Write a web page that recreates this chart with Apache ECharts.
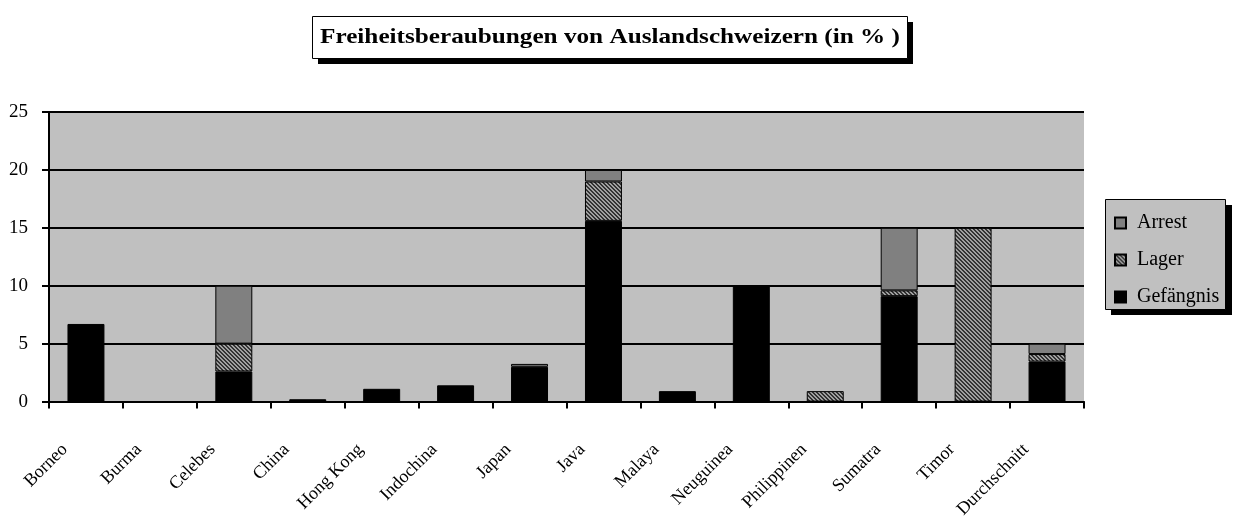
<!DOCTYPE html>
<html>
<head>
<meta charset="utf-8">
<script src="https://cdn.jsdelivr.net/npm/echarts@6/dist/echarts.min.js"></script>
<style>html,body{margin:0;padding:0;background:#fff;}#c{width:1234px;height:521px;}</style>
</head>
<body>
<div id="c"></div>
<script>
var titleText = 'Freiheitsberaubungen von Auslandschweizern (in % )';
var categories = ['Borneo','Burma','Celebes','China','Hong Kong','Indochina','Japan','Java','Malaya','Neuguinea','Philippinen','Sumatra','Timor','Durchschnitt'];
var gefaengnis = [6.7, 0, 2.6, 0.2, 1.1, 1.4, 3.0, 15.6, 0.9, 10, 0, 9.1, 0, 3.45];
var lager      = [0, 0, 2.4, 0, 0, 0, 0, 3.4, 0, 0, 0.9, 0.5, 15, 0.65];
var arrest     = [0, 0, 5, 0, 0, 0, 0.25, 1.0, 0, 0, 0, 5.4, 0, 0.9];
var seriesNames = ['Gefängnis', 'Lager', 'Arrest'];
var legendOrder = ['Arrest', 'Lager', 'Gefängnis'];

function nz(arr) { return arr.map(function (v) { return v === 0 ? null : v; }); }

// hatch pattern for "Lager"
var pc = document.createElement('canvas');
pc.width = 4; pc.height = 4;
var ctx = pc.getContext('2d');
ctx.fillStyle = '#a0a0a0';
ctx.fillRect(0, 0, 4, 4);
ctx.fillStyle = '#333333';
for (var i = 0; i < 4; i++) {
  ctx.fillRect(i, i, 1, 1);
  ctx.fillRect((i + 1) % 4, i, 1, 1);
}
var hatch = { image: pc, repeat: 'repeat' };

var serif = '"Liberation Serif", "Times New Roman", serif';
var chart = echarts.init(document.getElementById('c'), null, { renderer: 'canvas' });

function barSeries(name, data, color) {
  return {
    name: name,
    type: 'bar',
    stack: 'total',
    barWidth: '50%',
    data: nz(data),
    itemStyle: { color: color, borderColor: '#000', borderWidth: 1 },
    emphasis: { disabled: true }
  };
}

chart.setOption({
  animation: false,
  backgroundColor: '#fff',
  grid: {
    left: 49, right: 150, top: 112, bottom: 118,
    show: true, backgroundColor: '#c0c0c0', borderWidth: 0
  },
  xAxis: {
    type: 'category',
    data: categories,
    axisLine: { lineStyle: { color: '#000', width: 2 } },
    axisTick: { show: true, length: 7, lineStyle: { color: '#000', width: 2 } },
    axisLabel: {
      interval: 0, rotate: 45, color: '#000',
      fontFamily: serif, fontSize: 18,
      margin: 24, padding: [0, 30, 0, 0]
    },
    splitLine: { show: false }
  },
  yAxis: {
    type: 'value',
    min: 0, max: 25, interval: 5,
    axisLine: { show: true, lineStyle: { color: '#000', width: 2 } },
    axisTick: { show: true, length: 7, lineStyle: { color: '#000', width: 2 } },
    axisLabel: { color: '#000', fontFamily: serif, fontSize: 19, margin: 21 },
    splitLine: { show: true, lineStyle: { color: '#000', width: 2 } }
  },
  legend: {
    data: legendOrder,
    orient: 'vertical',
    left: 1114, top: 213,
    padding: 0,
    itemGap: 17,
    itemWidth: 11, itemHeight: 11,
    icon: 'rect',
    z: 10,
    textStyle: { fontFamily: serif, fontSize: 20, color: '#000', lineHeight: 20, padding: [0, 0, 0, 6] },
    selectedMode: false
  },
  graphic: [
    { type: 'rect', z: 1, shape: { x: 318, y: 22, width: 595, height: 42 }, style: { fill: '#000' } },
    { type: 'rect', z: 2, shape: { x: 312.5, y: 16.5, width: 595, height: 42 }, style: { fill: '#fff', stroke: '#000', lineWidth: 1 } },
    { type: 'text', z: 3, x: 610, y: 38, scaleX: 1.2, scaleY: 1,
      style: { text: titleText, x: 0, y: 0, textAlign: 'center', textVerticalAlign: 'middle', align: 'center', verticalAlign: 'middle',
               font: 'bold 21px ' + serif, fill: '#000' } },
    { type: 'rect', z: 1, shape: { x: 1111, y: 205, width: 121, height: 110 }, style: { fill: '#000' } },
    { type: 'rect', z: 2, shape: { x: 1105.5, y: 199.5, width: 120, height: 110 }, style: { fill: '#c0c0c0', stroke: '#000', lineWidth: 1 } }
  ],
  series: [
    barSeries(seriesNames[0], gefaengnis, '#000000'),
    barSeries(seriesNames[1], lager, hatch),
    barSeries(seriesNames[2], arrest, '#808080')
  ]
});
</script>
</body>
</html>
